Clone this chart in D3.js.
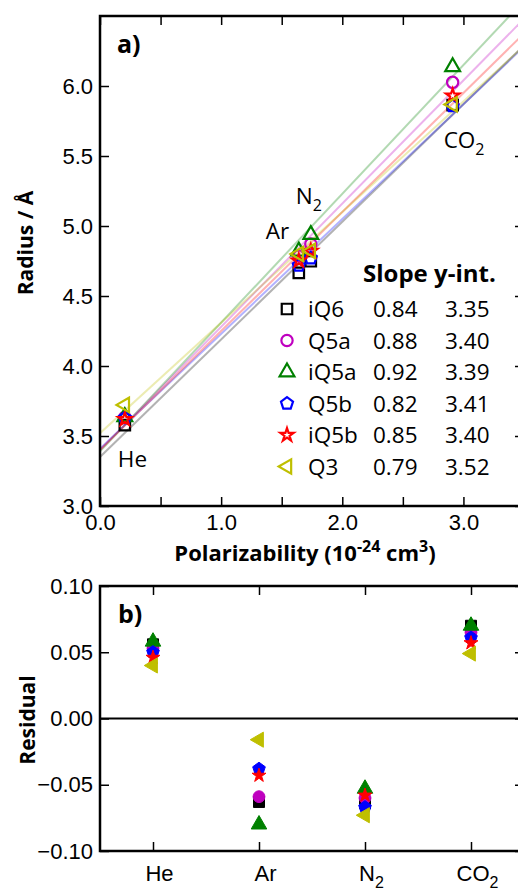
<!DOCTYPE html>
<html>
<head>
<meta charset="utf-8">
<script src="https://cdn.jsdelivr.net/npm/d3@7"></script>
<style>
  body { margin: 0; background: #fff; }
  svg { display: block; font-family: "Open Sans", "Noto Sans", sans-serif; }
  .tick text { font-size: 22px; fill: #000; }
  .tick line { stroke: #000; stroke-width: 1.5; }
  .domain { display: none; }
</style>
</head>
<body>
<svg id="chart" width="518" height="893"></svg>
<script>
// gases and their polarizability (10^-24 cm^3)
var gases = ["He", "Ar", "N2", "CO2"];
var polarizability = [0.205, 1.641, 1.74, 2.911];

// water models
var models = ["iQ6", "Q5a", "iQ5a", "Q5b", "iQ5b", "Q3"];
var colors = ["#000000", "#bf00bf", "#008000", "#0000ff", "#ff0000", "#bfbf00"];
var slopes = [0.84, 0.88, 0.92, 0.82, 0.85, 0.79];
var intercepts = [3.35, 3.40, 3.39, 3.41, 3.40, 3.52];

// radius (Angstrom) per model, order He, Ar, N2, CO2
var radius_iQ6 = [3.578, 4.665, 4.748, 5.864];
var radius_Q5a = [3.633, 4.785, 4.871, 6.026];
var radius_iQ5a = [3.637, 4.820, 4.938, 6.137];
var radius_Q5b = [3.628, 4.718, 4.770, 5.857];
var radius_iQ5b = [3.620, 4.752, 4.821, 5.931];
var radius_Q3 = [3.722, 4.800, 4.822, 5.868];

// residuals per model, order He, Ar, N2, CO2
var resid_iQ6 = [0.056, -0.063, -0.064, 0.070];
var resid_Q5a = [0.053, -0.059, -0.060, 0.065];
var resid_iQ5a = [0.058, -0.080, -0.053, 0.070];
var resid_Q5b = [0.050, -0.038, -0.067, 0.061];
var resid_iQ5b = [0.046, -0.043, -0.058, 0.057];
var resid_Q3 = [0.040, -0.016, -0.073, 0.049];

var radii = [radius_iQ6, radius_Q5a, radius_iQ5a, radius_Q5b, radius_iQ5b, radius_Q3];
var resids = [resid_iQ6, resid_Q5a, resid_iQ5a, resid_Q5b, resid_iQ5b, resid_Q3];

var xTicksA = [0, 0.5, 1, 1.5, 2, 2.5, 3, 3.5];
var yTicksA = [3.0, 3.5, 4.0, 4.5, 5.0, 5.5, 6.0];
var yTicksB = [-0.10, -0.05, 0.00, 0.05, 0.10];

// pentagon symbol
var symbolPentagon = {
    draw: function(ctx, size) {
        var r = Math.sqrt(size / 2.378);
        for (var i = 0; i < 5; i++) {
            var a = -Math.PI / 2 + i * 2 * Math.PI / 5;
            if (i == 0) ctx.moveTo(r * Math.cos(a), r * Math.sin(a));
            else ctx.lineTo(r * Math.cos(a), r * Math.sin(a));
        }
        ctx.closePath();
    }
};
// triangle pointing left
var symbolTriLeft = {
    draw: function(ctx, size) {
        var r = Math.sqrt(size / 1.299);
        ctx.moveTo(-r, 0);
        ctx.lineTo(r * 0.5, -r * 0.866);
        ctx.lineTo(r * 0.5, r * 0.866);
        ctx.closePath();
    }
};
var symbols = [d3.symbolSquare, d3.symbolCircle, d3.symbolTriangle, symbolPentagon, d3.symbolStar, symbolTriLeft];
var sizes = [110, 100, 95, 95, 55, 90];

var svg = d3.select("#chart");

//panel a
var left = 100, right = 524;
var xA = d3.scaleLinear().domain([0, 3.5]).range([left, right]);
var yA = d3.scaleLinear().domain([3.0, 6.5]).range([506, 16]);

svg.append("clipPath").attr("id", "clipA")
    .append("rect").attr("x", left).attr("y", 16).attr("width", right - left).attr("height", 490);

//fit lines
var lines = svg.append("g").attr("clip-path", "url(#clipA)");
models.forEach(function(m, i) {
    lines.append("line")
        .attr("x1", xA(0)).attr("y1", yA(intercepts[i]))
        .attr("x2", xA(3.5)).attr("y2", yA(intercepts[i] + slopes[i] * 3.5))
        .style("stroke", colors[i])
        .style("stroke-opacity", 0.3)
        .style("stroke-width", 2);
});

//axes a
svg.append("g").attr("transform", "translate(0,506)")
    .call(d3.axisBottom(xA).tickValues(xTicksA).tickSize(-9).tickPadding(8)
        .tickFormat(function(d) { return Number.isInteger(d) ? d.toFixed(1) : ""; }));
svg.append("g").attr("transform", "translate(0,16)")
    .call(d3.axisTop(xA).tickValues(xTicksA).tickSize(-9).tickFormat(""));
svg.append("g").attr("transform", "translate(" + left + ",0)")
    .call(d3.axisLeft(yA).tickValues(yTicksA).tickSize(-9).tickPadding(7).tickFormat(d3.format(".1f")));
svg.append("g").attr("transform", "translate(" + right + ",0)")
    .call(d3.axisRight(yA).tickValues(yTicksA).tickSize(-9).tickFormat(""));
svg.append("rect").attr("x", left).attr("y", 16).attr("width", right - left).attr("height", 490)
    .style("fill", "none").style("stroke", "#000").style("stroke-width", 2.5);

//points a
models.forEach(function(m, i) {
    svg.append("g").selectAll("path")
        .data(radii[i])
        .enter()
        .append("path")
        .attr("transform", function(d, j) { return "translate(" + xA(polarizability[j]) + "," + yA(d) + ")"; })
        .attr("d", d3.symbol().type(symbols[i]).size(sizes[i]))
        .style("fill", "none")
        .style("stroke", colors[i])
        .style("stroke-width", 2.2);
});

function gasLabel(sel, name) {
    var m = name.match(/^([A-Za-z]+)(\d*)$/);
    sel.text(null);
    sel.append("tspan").text(m[1]);
    if (m[2]) sel.append("tspan").attr("dy", 7).style("font-size", "16px").text(m[2]);
}

//gas annotations
var annot = [[-7, 3.28], [-33, 4.91], [-15, 5.16], [-9, 5.56]];
gases.forEach(function(g, j) {
    var t = svg.append("text")
        .attr("x", xA(polarizability[j]) + annot[j][0])
        .attr("y", yA(annot[j][1]))
        .style("font-size", "22.5px");
    gasLabel(t, g);
});

svg.append("text").attr("x", 117).attr("y", 53).text("a)")
    .style("font-size", "25px").style("font-weight", "bold");

//legend
var legend = svg.append("g");
legend.append("text").attr("x", 363).attr("y", 282).text("Slope y-int.")
    .style("font-size", "24px").style("font-weight", "bold");
models.forEach(function(m, i) {
    var cy = 309 + i * 31.5;
    legend.append("path")
        .attr("transform", "translate(287," + cy + ")")
        .attr("d", d3.symbol().type(symbols[i]).size(sizes[i]))
        .style("fill", "none").style("stroke", colors[i]).style("stroke-width", 2.2);
    legend.append("text").attr("x", 308).attr("y", cy + 8).text(m).style("font-size", "22.5px");
    legend.append("text").attr("x", 373).attr("y", cy + 8).text(slopes[i].toFixed(2)).style("font-size", "22.5px");
    legend.append("text").attr("x", 445).attr("y", cy + 8).text(intercepts[i].toFixed(2)).style("font-size", "22.5px");
});

//axis titles a
var xt = svg.append("text").attr("x", 305).attr("y", 561).attr("text-anchor", "middle")
    .style("font-size", "22px").style("font-weight", "bold");
xt.append("tspan").text("Polarizability (10");
xt.append("tspan").attr("dy", -9).style("font-size", "16px").text("-24");
xt.append("tspan").attr("dy", 9).text(" cm");
xt.append("tspan").attr("dy", -9).style("font-size", "16px").text("3");
xt.append("tspan").attr("dy", 9).text(")");

svg.append("text").attr("transform", "translate(33,243) rotate(-90)")
    .attr("text-anchor", "middle").text("Radius / Å")
    .style("font-size", "21px").style("font-weight", "bold");

//panel b
var xB = d3.scalePoint().domain(gases).range([left, right]).padding(0.5);
var yB = d3.scaleLinear().domain([-0.10, 0.10]).range([851, 586]);

svg.append("line").attr("x1", left).attr("x2", right).attr("y1", yB(0)).attr("y2", yB(0))
    .style("stroke", "#000").style("stroke-width", 2);

var xAxisB = svg.append("g").attr("transform", "translate(0,851)")
    .call(d3.axisBottom(xB).tickSize(-9).tickPadding(14));
xAxisB.selectAll(".tick text").attr("dx", 6).each(function(d) { gasLabel(d3.select(this), d); });
svg.append("g").attr("transform", "translate(0,586)")
    .call(d3.axisTop(xB).tickSize(-9).tickFormat(""));
svg.append("g").attr("transform", "translate(" + left + ",0)")
    .call(d3.axisLeft(yB).tickValues(yTicksB).tickSize(-9).tickPadding(7).tickFormat(d3.format(".2f")));
svg.append("g").attr("transform", "translate(" + right + ",0)")
    .call(d3.axisRight(yB).tickValues(yTicksB).tickSize(-9).tickFormat(""));
svg.append("rect").attr("x", left).attr("y", 586).attr("width", right - left).attr("height", 265)
    .style("fill", "none").style("stroke", "#000").style("stroke-width", 2.5);

models.forEach(function(m, i) {
    svg.append("g").selectAll("path")
        .data(resids[i])
        .enter()
        .append("path")
        .attr("transform", function(d, j) { return "translate(" + xB(gases[j]) + "," + yB(d) + ")"; })
        .attr("d", d3.symbol().type(symbols[i]).size(sizes[i] * 1.1))
        .style("fill", colors[i])
        .style("stroke", colors[i])
        .style("stroke-width", 1);
});

svg.append("text").attr("x", 118).attr("y", 623).text("b)")
    .style("font-size", "25px").style("font-weight", "bold");

svg.append("text").attr("transform", "translate(35,720) rotate(-90)")
    .attr("text-anchor", "middle").text("Residual")
    .style("font-size", "21px").style("font-weight", "bold");
</script>
</body>
</html>
